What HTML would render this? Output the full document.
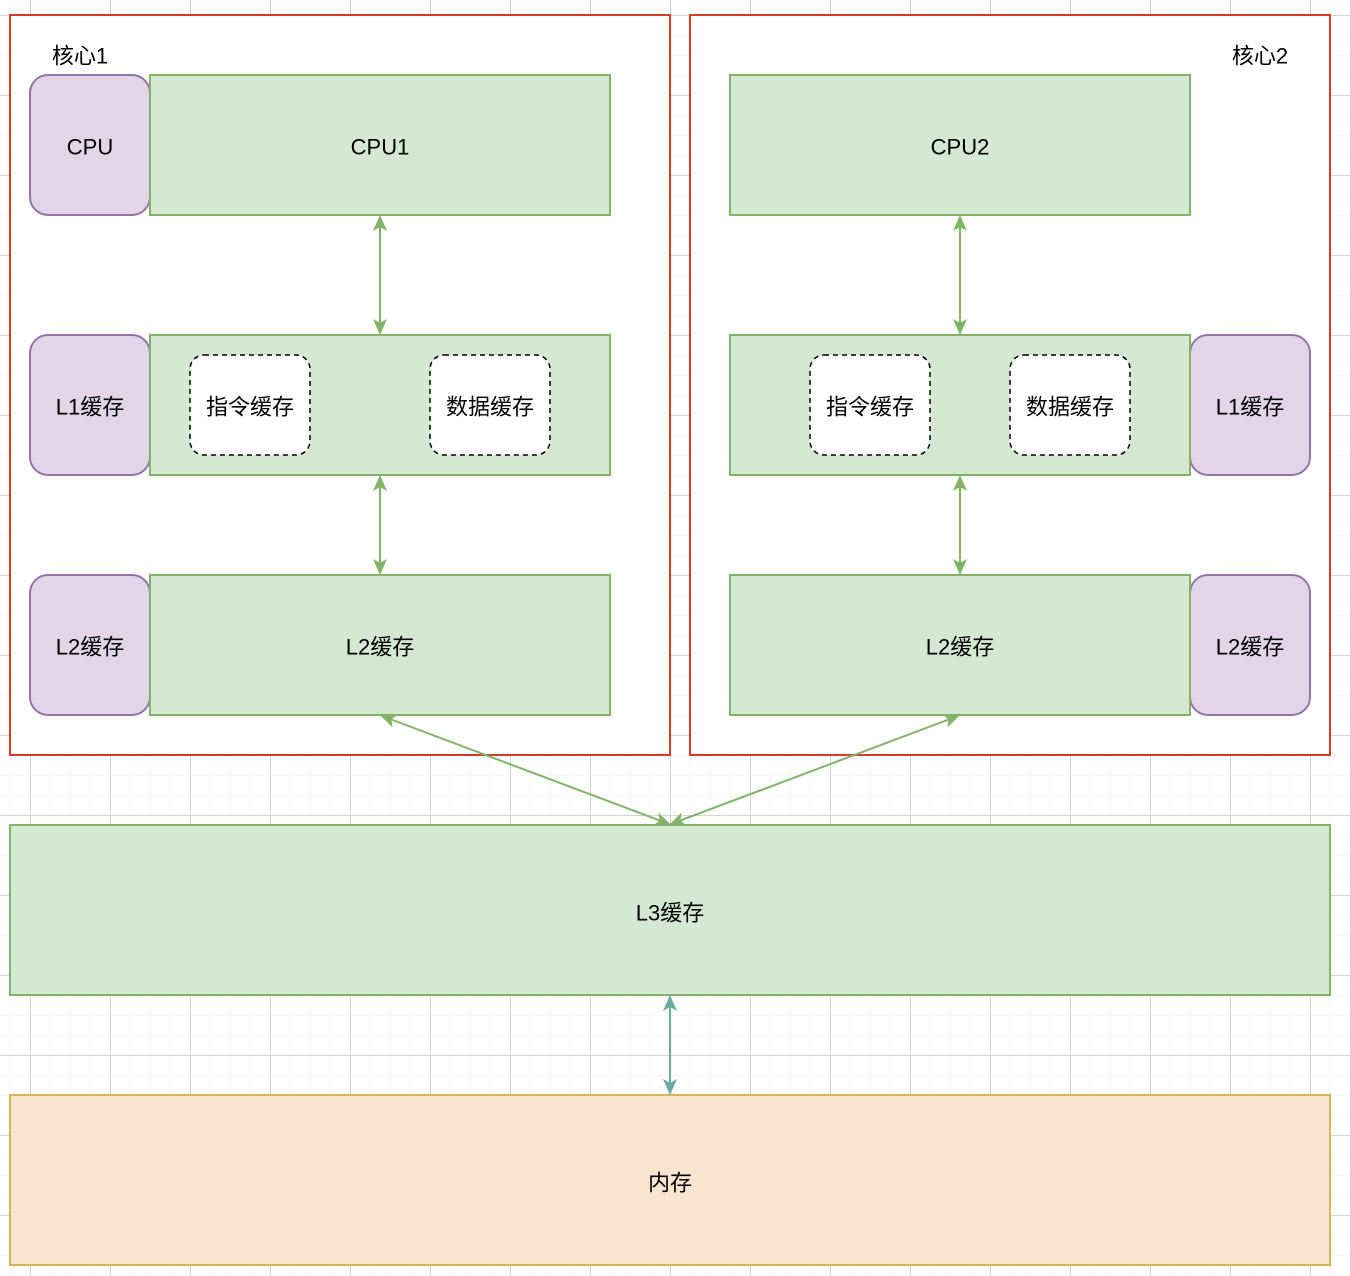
<!DOCTYPE html>
<html><head><meta charset="utf-8"><style>
html,body{margin:0;padding:0;background:#fff}
svg{display:block}
text{font-family:"Liberation Sans","Noto Sans CJK SC",sans-serif;font-size:22px;fill:#000;text-anchor:middle;dominant-baseline:central}
</style></head><body>
<svg width="1350" height="1276" viewBox="0 0 1350 1276" xmlns="http://www.w3.org/2000/svg">
<defs>
<pattern id="minor" width="20" height="20" patternUnits="userSpaceOnUse" x="10" y="15">
<path d="M0 0H20M0 0V20" stroke="#f0f0f0" stroke-width="1" fill="none"/>
</pattern>
<pattern id="major" width="80" height="80" patternUnits="userSpaceOnUse" x="30" y="15">
<path d="M0 0.5H80M0.5 0V80" stroke="#d4d4d4" stroke-width="1" fill="none"/>
</pattern>
<marker id="ag" markerWidth="16" markerHeight="16" refX="14" refY="8" orient="auto-start-reverse" markerUnits="userSpaceOnUse">
<path d="M0 1L16 8L0 15L4 8Z" fill="#82b366"/>
</marker>
<marker id="at" markerWidth="16" markerHeight="16" refX="14" refY="8" orient="auto-start-reverse" markerUnits="userSpaceOnUse">
<path d="M0 1L16 8L0 15L4 8Z" fill="#67ab9f"/>
</marker>
</defs>
<rect width="1350" height="1276" fill="url(#minor)"/>
<rect width="1350" height="1276" fill="url(#major)"/>

<rect x="10" y="15" width="660" height="740" fill="#fff" stroke="#d93a2b" stroke-width="2"/>
<rect x="690" y="15" width="640" height="740" fill="#fff" stroke="#d93a2b" stroke-width="2"/>
<text x="80" y="56">核心1</text>
<text x="1260" y="56">核心2</text>

<g fill="#e1d5e7" stroke="#9673a6" stroke-width="2">
<rect x="30" y="75" width="120" height="140" rx="18"/>
<rect x="30" y="335" width="120" height="140" rx="18"/>
<rect x="30" y="575" width="120" height="140" rx="18"/>
<rect x="1190" y="335" width="120" height="140" rx="18"/>
<rect x="1190" y="575" width="120" height="140" rx="18"/>
</g>
<g fill="#d5e8d4" stroke="#82b366" stroke-width="2">
<rect x="150" y="75" width="460" height="140"/>
<rect x="150" y="335" width="460" height="140"/>
<rect x="150" y="575" width="460" height="140"/>
<rect x="730" y="75" width="460" height="140"/>
<rect x="730" y="335" width="460" height="140"/>
<rect x="730" y="575" width="460" height="140"/>
<rect x="10" y="825" width="1320" height="170"/>
</g>
<rect x="10" y="1095" width="1320" height="170" fill="#fae5d1" stroke="#d6b656" stroke-width="2"/>
<g fill="#fff" stroke="#000" stroke-width="1.5" stroke-dasharray="5 4">
<rect x="190" y="355" width="120" height="100" rx="14"/>
<rect x="430" y="355" width="120" height="100" rx="14"/>
<rect x="810" y="355" width="120" height="100" rx="14"/>
<rect x="1010" y="355" width="120" height="100" rx="14"/>
</g>

<text x="90" y="147">CPU</text>
<text x="380" y="147">CPU1</text>
<text x="960" y="147">CPU2</text>
<text x="90" y="407">L1缓存</text>
<text x="1250" y="407">L1缓存</text>
<text x="250" y="407">指令缓存</text>
<text x="490" y="407">数据缓存</text>
<text x="870" y="407">指令缓存</text>
<text x="1070" y="407">数据缓存</text>
<text x="90" y="647">L2缓存</text>
<text x="380" y="647">L2缓存</text>
<text x="960" y="647">L2缓存</text>
<text x="1250" y="647">L2缓存</text>
<text x="670" y="913">L3缓存</text>
<text x="670" y="1183">内存</text>

<g stroke="#82b366" stroke-width="2" fill="none" marker-start="url(#ag)" marker-end="url(#ag)">
<line x1="380" y1="217" x2="380" y2="333"/>
<line x1="380" y1="477" x2="380" y2="573"/>
<line x1="960" y1="217" x2="960" y2="333"/>
<line x1="960" y1="477" x2="960" y2="573"/>
<line x1="382" y1="716" x2="669" y2="824"/>
<line x1="958" y1="716" x2="671" y2="824"/>
</g>
<line x1="670" y1="997" x2="670" y2="1093" stroke="#67ab9f" stroke-width="2" marker-start="url(#at)" marker-end="url(#at)"/>
</svg>
</body></html>
